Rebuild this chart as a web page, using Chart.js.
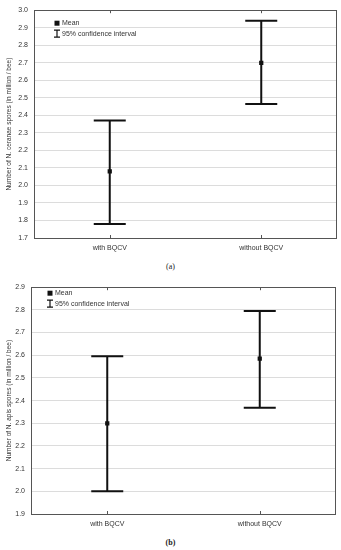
<!DOCTYPE html>
<html>
<head>
<meta charset="utf-8">
<script src="https://cdn.jsdelivr.net/npm/chart.js@4"></script>
<style>
  body { margin: 0; background: #fff; width: 341px; height: 550px; position: relative; overflow: hidden; }
  .box { position: absolute; left: 0; width: 341px; }
  .cap { position: absolute; left: 0; width: 341px; text-align: center; font-family: "Liberation Serif", serif; font-size: 8px; color: #222; }
</style>
</head>
<body>
<div class="box" style="top:0;height:256px"><canvas id="chartA"></canvas></div>
<div class="cap" style="top:262px">(a)</div>
<div class="box" style="top:277px;height:255px"><canvas id="chartB"></canvas></div>
<div class="cap" style="top:538px;font-weight:bold">(b)</div>
<script>
// values
const categories = ["with BQCV", "without BQCV"];
const ceranaeMean = [2.08, 2.70];
const ceranaeLower = [1.78, 2.465];
const ceranaeUpper = [2.37, 2.94];
const apisMean = [2.30, 2.585];
const apisLower = [2.00, 2.368];
const apisUpper = [2.595, 2.795];
const ceranaeRange = [1.7, 3.0];
const apisRange = [1.9, 2.9];

const FONT = "Liberation Sans";

// error bars, frame and in-plot legend
const errorBarPlugin = {
  id: "errorBars",
  afterDatasetsDraw(chart) {
    const ctx = chart.ctx;
    const x = chart.scales.x, y = chart.scales.y;
    const ds = chart.data.datasets[0];
    const a = chart.chartArea;
    ctx.save();
    ctx.strokeStyle = "#111";
    ctx.lineWidth = 2;
    ds.data.forEach(function(v, i) {
      const px = x.getPixelForValue(i);
      const lo = y.getPixelForValue(ds.lower[i]);
      const hi = y.getPixelForValue(ds.upper[i]);
      ctx.beginPath();
      ctx.moveTo(px, lo); ctx.lineTo(px, hi);
      ctx.moveTo(px - 16, lo); ctx.lineTo(px + 16, lo);
      ctx.moveTo(px - 16, hi); ctx.lineTo(px + 16, hi);
      ctx.stroke();
    });
    // frame with small ticks at the categories
    ctx.strokeStyle = "#555";
    ctx.lineWidth = 1;
    ctx.strokeRect(Math.round(a.left) + 0.5, Math.round(a.top) + 0.5, Math.round(a.right - a.left) - 1, Math.round(a.bottom - a.top));
    ctx.beginPath();
    ds.data.forEach(function(v, i) {
      const px = Math.round(x.getPixelForValue(i)) + 0.5;
      ctx.moveTo(px, a.top); ctx.lineTo(px, a.top + 3);
      ctx.moveTo(px, a.bottom); ctx.lineTo(px, a.bottom - 3);
    });
    ctx.stroke();
    // legend
    const lx = a.left + chart.options.legendOffset.x;
    const ly = a.top + chart.options.legendOffset.y;
    ctx.fillStyle = "#111";
    ctx.fillRect(lx - 2.5, ly - 2.5, 5, 5);
    ctx.font = "7px " + FONT;
    ctx.textBaseline = "middle";
    ctx.fillStyle = "#333";
    ctx.fillText("Mean", lx + 5, ly);
    ctx.strokeStyle = "#111";
    ctx.lineWidth = 1.2;
    ctx.beginPath();
    ctx.moveTo(lx, ly + 7); ctx.lineTo(lx, ly + 14);
    ctx.moveTo(lx - 3, ly + 7); ctx.lineTo(lx + 3, ly + 7);
    ctx.moveTo(lx - 3, ly + 14); ctx.lineTo(lx + 3, ly + 14);
    ctx.stroke();
    ctx.fillText("95% confidence interval", lx + 5, ly + 11);
    ctx.restore();
  }
};

function makeChart(id, mean, lower, upper, range, title, leftW, rightPad, legendOffset) {
  return new Chart(document.getElementById(id), {
    type: "line",
    data: {
      labels: categories,
      datasets: [{
        data: mean,
        lower: lower,
        upper: upper,
        showLine: false,
        pointStyle: "rect",
        pointRadius: 3,
        pointBackgroundColor: "#111",
        pointBorderColor: "#111",
        pointBorderWidth: 0
      }]
    },
    options: {
      responsive: true,
      maintainAspectRatio: false,
      animation: false,
      legendOffset: legendOffset,
      layout: { padding: { top: 6, right: rightPad, left: 0, bottom: 0 } },
      plugins: { legend: { display: false }, tooltip: { enabled: false } },
      scales: {
        x: {
          offset: true,
          grid: { display: false, drawTicks: false },
          border: { display: false },
          ticks: { color: "#333", font: { family: FONT, size: 7 }, padding: 6 },
          afterFit: function(s) { s.height = 18; }
        },
        y: {
          min: range[0],
          max: range[1],
          grid: { color: "#dcdcdc", drawTicks: false },
          border: { display: false },
          ticks: {
            stepSize: 0.1,
            color: "#333",
            font: { family: FONT, size: 7 },
            padding: 6,
            callback: function(v) { return v.toFixed(1); }
          },
          title: {
            display: true,
            text: title,
            color: "#333",
            font: { family: FONT, size: 6.5 },
            padding: { top: 5, bottom: 0 }
          },
          afterFit: function(s) { s.width = leftW; }
        }
      }
    },
    plugins: [errorBarPlugin]
  });
}

makeChart("chartA", ceranaeMean, ceranaeLower, ceranaeUpper, ceranaeRange,
  "Number of N. ceranae spores (in million / bee)", 34, 1, { x: 23, y: 13 });
makeChart("chartB", apisMean, apisLower, apisUpper, apisRange,
  "Number of N. apis spores (in million / bee)", 31, 5, { x: 19, y: 6 });
</script>
</body>
</html>
